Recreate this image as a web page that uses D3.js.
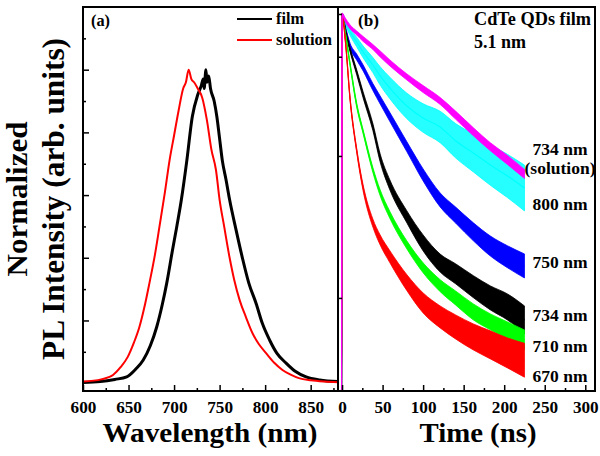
<!DOCTYPE html>
<html>
<head>
<meta charset="utf-8">
<script src="https://cdn.jsdelivr.net/npm/d3@7"></script>
<style>
  body { margin: 0; background: #fff; }
</style>
</head>
<body>
<div id="chart"></div>
<script>
// panel (a): steady state PL spectra
var wlFilm = [600, 619, 635, 648, 658, 666, 674, 681, 687, 692, 698, 703, 708, 714, 720, 726, 730, 732, 733, 735, 736, 738, 740, 744, 747, 750, 753, 757, 761, 768, 775, 782, 790, 797, 805, 813, 823, 833, 845, 860, 880];
var plFilm = [0.002, 0.005, 0.012, 0.02, 0.045, 0.073, 0.12, 0.18, 0.25, 0.32, 0.42, 0.50, 0.585, 0.71, 0.85, 0.92, 0.95, 0.97, 0.94, 1.0, 0.96, 0.98, 0.94, 0.90, 0.85, 0.78, 0.71, 0.65, 0.585, 0.49, 0.40, 0.32, 0.255, 0.19, 0.137, 0.095, 0.064, 0.038, 0.02, 0.01, 0.005];
var wlSol = [600, 620, 633, 641, 649, 656, 662, 668, 673, 679, 684, 690, 695, 700, 705, 710, 713, 716, 719, 722, 726, 731, 736, 741, 746, 750, 755, 761, 766, 772, 779, 786, 793, 801, 810, 819, 828, 837, 850, 865, 880];
var plSol = [0.005, 0.012, 0.026, 0.05, 0.083, 0.13, 0.18, 0.25, 0.32, 0.41, 0.5, 0.61, 0.71, 0.79, 0.87, 0.94, 0.96, 1.0, 0.97, 0.96, 0.94, 0.91, 0.84, 0.745, 0.68, 0.585, 0.50, 0.40, 0.33, 0.265, 0.21, 0.16, 0.125, 0.096, 0.065, 0.042, 0.027, 0.016, 0.009, 0.005, 0.003];

// panel (b): PL decay, log intensity; spread = noise ratio of each trace
var tDecay = [-5, -0.6, 0, 4, 10, 18, 26, 38, 47, 59, 80, 100, 121, 140, 162, 183, 204, 225];
var decSol734 = [0.0022, 0.0022, 1, 0.907, 0.810, 0.735, 0.667, 0.586, 0.523, 0.452, 0.360, 0.296, 0.244, 0.194, 0.148, 0.116, 0.0937, 0.0747];
var spreadSol734 = [1, 1, 1.016, 1.033, 1.033, 1.033, 1.041, 1.041, 1.05, 1.05, 1.05, 1.058, 1.058, 1.067, 1.067, 1.067, 1.076, 1.076];
var dec800 = [0.0022, 0.0022, 1, 0.878, 0.747, 0.635, 0.540, 0.437, 0.366, 0.301, 0.225, 0.185, 0.160, 0.128, 0.105, 0.0864, 0.0723, 0.0595];
var spread800 = [1, 1, 1.016, 1.04, 1.06, 1.08, 1.1, 1.13, 1.16, 1.19, 1.23, 1.26, 1.29, 1.32, 1.36, 1.39, 1.42, 1.45];
var dec750 = [0.0022, 0.0022, 1, 0.797, 0.595, 0.498, 0.417, 0.306, 0.248, 0.188, 0.116, 0.0735, 0.049, 0.0384, 0.0292, 0.0232, 0.0195, 0.0168];
var spread750 = [1, 1, 1.016, 1.033, 1.041, 1.05, 1.05, 1.058, 1.067, 1.076, 1.084, 1.102, 1.12, 1.138, 1.157, 1.176, 1.195, 1.215];
var dec734 = [0.0022, 0.0022, 1, 0.772, 0.557, 0.390, 0.269, 0.160, 0.0968, 0.0625, 0.0372, 0.0244, 0.0176, 0.0148, 0.0120, 0.0100, 0.00864, 0.0070];
var spread734 = [1, 1, 1.016, 1.025, 1.033, 1.041, 1.05, 1.058, 1.067, 1.084, 1.102, 1.138, 1.157, 1.176, 1.195, 1.215, 1.235, 1.255];
var dec710 = [0.0022, 0.0022, 1, 0.735, 0.437, 0.229, 0.148, 0.0797, 0.055, 0.0384, 0.0236, 0.0163, 0.0122, 0.0100, 0.00797, 0.00678, 0.00586, 0.00506];
var spread710 = [1, 1, 1.016, 1.016, 1.025, 1.033, 1.033, 1.041, 1.05, 1.058, 1.067, 1.084, 1.102, 1.12, 1.138, 1.138, 1.157, 1.176];
var dec670 = [0.0022, 0.0022, 1, 0.656, 0.248, 0.110, 0.0595, 0.0337, 0.0256, 0.0195, 0.0128, 0.00922, 0.00735, 0.00625, 0.00531, 0.00467, 0.0041, 0.00364];
var spread670 = [1, 1, 1.016, 1.016, 1.025, 1.033, 1.05, 1.067, 1.084, 1.102, 1.138, 1.176, 1.195, 1.215, 1.235, 1.255, 1.275, 1.317];

var xTicksA = [600, 650, 700, 750, 800, 850];
var xMinorA = [625, 675, 725, 775, 825, 875];
var yMajorA = [0.2, 0.4, 0.6, 0.8, 1.0];
var yMinorA = [0.1, 0.3, 0.5, 0.7, 0.9, 1.1];
var xTicksB = [0, 50, 100, 150, 200, 250, 300];
var xMinorB = [25, 75, 125, 175, 225, 275];
var yTicksB = [1, 0.5, 0.1, 0.01];

var width = 600, height = 456;
var svg = d3.select("#chart").append("svg")
    .attr("width", width)
    .attr("height", height);
svg.append("rect").attr("width", width).attr("height", height).attr("fill", "#fff");

var xA = d3.scaleLinear().domain([600, 880]).range([83, 338]);
var yA = d3.scaleLinear().domain([-0.025, 1.2]).range([391, 7]);
var xB = d3.scaleLinear().domain([-5, 312]).range([338, 595]);
var yB = d3.scaleLog().domain([0.00221, 1.12]).range([391, 7]);

svg.append("clipPath").attr("id", "clipA").append("rect")
    .attr("x", 83).attr("y", 7).attr("width", 255).attr("height", 384);
svg.append("clipPath").attr("id", "clipB").append("rect")
    .attr("x", 338).attr("y", 7).attr("width", 257).attr("height", 384);

// ---- panel (a) curves
var lineA = d3.line().curve(d3.curveMonotoneX)
    .x(function (d) { return xA(d[0]); })
    .y(function (d) { return yA(d[1]); });

var gA = svg.append("g").attr("clip-path", "url(#clipA)");
gA.append("path")
    .attr("d", lineA(d3.zip(wlFilm, plFilm)))
    .attr("fill", "none").attr("stroke", "#000").attr("stroke-width", 3);
gA.append("path")
    .attr("d", lineA(d3.zip(wlSol, plSol)))
    .attr("fill", "none").attr("stroke", "#f00").attr("stroke-width", 2);

// ---- panel (b) decay traces, drawn as noise bands
var series = [
  {v: dec800, s: spread800, c: "#00ffff", o: 0.85},
  {v: dec750, s: spread750, c: "#0000ff", o: 1},
  {v: dec734, s: spread734, c: "#000000", o: 1},
  {v: dec710, s: spread710, c: "#00ff00", o: 1},
  {v: dec670, s: spread670, c: "#ff0000", o: 1},
  {v: decSol734, s: spreadSol734, c: "#ff00ff", o: 1}
];

var gB = svg.append("g").attr("clip-path", "url(#clipB)");
series.forEach(function (sr) {
  var pts = tDecay.map(function (t, i) { return {t: t, v: sr.v[i], s: sr.s[i]}; });
  var band = d3.area().curve(d3.curveMonotoneX)
      .x(function (d) { return xB(d.t); })
      .y0(function (d) { return yB(d.v / d.s); })
      .y1(function (d) { return yB(d.v * d.s); });
  var mid = d3.line().curve(d3.curveMonotoneX)
      .x(function (d) { return xB(d.t); })
      .y(function (d) { return yB(d.v); });
  gB.append("path").attr("d", band(pts)).attr("fill", sr.c).attr("fill-opacity", sr.o)
      .attr("stroke", sr.c).attr("stroke-width", 0.8);
  gB.append("path").attr("d", mid(pts)).attr("fill", "none").attr("stroke", sr.c).attr("stroke-width", 1.2);
});

// ---- axes
function strip(g) { g.select(".domain").remove(); }
function noText(g) { g.selectAll("text").remove(); }

svg.append("g").attr("transform", "translate(0,391)")
    .call(d3.axisBottom(xA).tickValues(xTicksA).tickSize(-6).tickPadding(10))
    .call(strip);
svg.append("g").attr("transform", "translate(0,391)")
    .call(d3.axisBottom(xA).tickValues(xMinorA).tickSize(-3))
    .call(strip).call(noText);
svg.append("g").attr("transform", "translate(83,0)")
    .call(d3.axisLeft(yA).tickValues(yMajorA).tickSize(-6))
    .call(strip).call(noText);
svg.append("g").attr("transform", "translate(83,0)")
    .call(d3.axisLeft(yA).tickValues(yMinorA).tickSize(-3))
    .call(strip).call(noText);

svg.append("g").attr("transform", "translate(0,391)")
    .call(d3.axisBottom(xB).tickValues(xTicksB).tickSize(-6).tickPadding(10))
    .call(strip);
svg.append("g").attr("transform", "translate(0,391)")
    .call(d3.axisBottom(xB).tickValues(xMinorB).tickSize(-3))
    .call(strip).call(noText);
svg.append("g").attr("transform", "translate(338,0)")
    .call(d3.axisLeft(yB).tickValues(yTicksB).tickSize(-4))
    .call(strip).call(noText);

svg.selectAll(".tick line").attr("stroke", "#000").attr("stroke-width", 1.5);
svg.selectAll(".tick text").attr("fill", "#000").attr("font-size", 17)
    .attr("data-w", function () { return this.textContent.length * 8.6; });

// frames
svg.append("rect").attr("x", 83).attr("y", 7).attr("width", 255).attr("height", 384)
    .attr("fill", "none").attr("stroke", "#000").attr("stroke-width", 2);
svg.append("rect").attr("x", 338).attr("y", 7).attr("width", 257).attr("height", 384)
    .attr("fill", "none").attr("stroke", "#000").attr("stroke-width", 2);

// ---- texts (w = width measured on the reference)
function label(x, y, txt, size, w, anchor) {
  return svg.append("text").attr("x", x).attr("y", y)
      .attr("text-anchor", anchor || "start")
      .attr("data-w", w)
      .attr("font-size", size).text(txt);
}

label(91, 26, "(a)", 16, 19);
label(358, 26, "(b)", 17, 21);

svg.append("line").attr("x1", 237).attr("x2", 272).attr("y1", 19).attr("y2", 19)
    .attr("stroke", "#000").attr("stroke-width", 2);
label(276, 24, "film", 16, 28);
svg.append("line").attr("x1", 237).attr("x2", 272).attr("y1", 40).attr("y2", 40)
    .attr("stroke", "#f00").attr("stroke-width", 2);
label(276, 45, "solution", 16, 56);

label(474, 25, "CdTe QDs film", 18, 117);
label(474, 48, "5.1 nm", 18, 52);

var rightLabels = [
  {t: "734 nm", y: 155, w: 55},
  {t: "(solution)", y: 174, w: 71},
  {t: "800 nm", y: 210, w: 55},
  {t: "750 nm", y: 268, w: 55},
  {t: "734 nm", y: 321, w: 55},
  {t: "710 nm", y: 352, w: 55},
  {t: "670 nm", y: 382, w: 55}
];
rightLabels.forEach(function (l) {
  label(560, l.y, l.t, 17.5, l.w, "middle");
});

label(210, 442, "Wavelength (nm)", 28, 215, "middle");
label(478, 442, "Time (ns)", 28, 117, "middle");

label(0, 0, "Normalized", 30, 155, "middle")
    .attr("transform", "translate(27,199) rotate(-90)");
label(0, 0, "PL Intensity (arb. units)", 31, 322, "middle")
    .attr("transform", "translate(64,199) rotate(-90)");

// serif bold everywhere, each text held to the width it has on the reference
svg.selectAll("text")
    .attr("font-family", "Liberation Serif, Times New Roman, serif")
    .attr("font-weight", "bold")
    .attr("textLength", function () { return this.getAttribute("data-w"); })
    .attr("lengthAdjust", "spacingAndGlyphs");
</script>
</body>
</html>
